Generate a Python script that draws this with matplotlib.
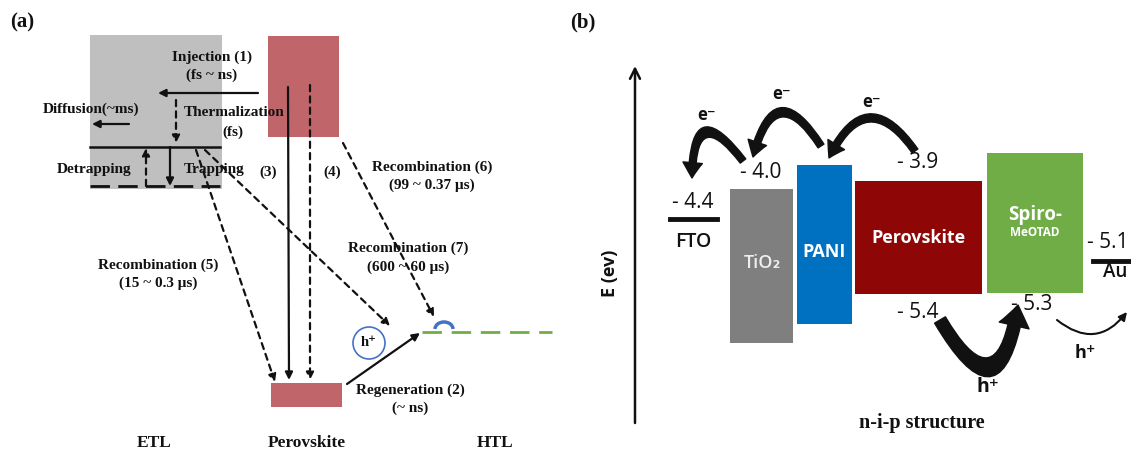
"""
plot.py — 钙钛矿电池载流子动力学示意图 (a) + 能级图 (b)
整张图用一个像素坐标的 axes 画，方便对位。
"""

import matplotlib
matplotlib.use("Agg")
import matplotlib.pyplot as plt
from matplotlib.patches import Rectangle, Circle, Arc, FancyArrowPatch

W, H = 1131, 451
SERIF = ["Liberation Serif", "DejaVu Serif"]
SANS = ["Open Sans", "DejaVu Sans"]
BLACK = "#111111"

# ── (a) 数据 ──────────────────────────────────────────────
a_box_names = ["ETL", "Perovskite CB", "Perovskite VB"]
a_box_colors = ["#bfbfbf", "#c0666a", "#c0666a"]
a_box_geom = [(90, 35, 132, 154), (268, 36, 71, 101), (271, 383, 71, 24)]

a_texts = [
    "Injection (1)", "(fs ~ ns)", "Diffusion(~ms)", "Thermalization", "(fs)",
    "Detrapping", "Trapping", "(3)", "(4)",
    "Recombination (6)", "(99 ~ 0.37 μs)",
    "Recombination (7)", "(600 ~ 60 μs)",
    "Recombination (5)", "(15 ~ 0.3 μs)",
    "Regeneration (2)", "(~ ns)",
]
a_text_pos = [
    (212, 57), (212, 75), (91, 109), (234, 112), (233, 132),
    (94, 170), (214, 170), (268, 172), (332, 172),
    (432, 167), (432, 185), (408, 248), (408, 267),
    (158, 265), (158, 283), (410, 390), (410, 408),
]
a_layers = ["ETL", "Perovskite", "HTL"]
a_layer_x = [154, 307, 495]

# 实线箭头 / 虚线箭头 (起点 -> 终点)
a_solid_arrows = [
    ((258, 93), (158, 93)),     # injection
    ((129, 124), (92, 124)),    # diffusion
    ((170, 147), (170, 186)),   # trapping
    ((288, 87), (289, 380)),    # (3)
    ((347, 384), (420, 333)),   # regeneration
]
a_dashed_arrows = [
    ((176, 100), (176, 143)),   # thermalization
    ((146, 186), (146, 148)),   # detrapping
    ((310, 85), (310, 380)),    # (4)
    ((196, 150), (275, 382)),   # recombination (5)
    ((205, 150), (390, 326)),   # recombination (7)
    ((343, 143), (434, 317)),   # recombination (6)
]

# ── (b) 数据 ──────────────────────────────────────────────
b_layers = ["TiO₂", "PANI", "Perovskite", "Spiro-"]
b_colors = ["#7f7f7f", "#0070c0", "#8e0606", "#70ad47"]
b_geom = [(730, 189, 63, 154), (797, 165, 55, 159),
          (855, 181, 127, 113), (987, 153, 96, 140)]
b_levels = ["- 4.4", "- 4.0", "- 3.9", "- 5.4", "- 5.3", "- 5.1"]
b_level_pos = [(693, 202), (761, 173), (918, 163), (918, 312), (1032, 305), (1108, 243)]
b_e_arrows = [((743, 161), (692, 178)), ((821, 146), (753, 157)), ((915, 151), (829, 158))]
b_e_rads = [1.45, 1.15, 0.85]
b_e_label_pos = [(707, 115), (782, 94), (872, 102)]


fig = plt.figure(figsize=(W / 100, H / 100), dpi=100)
ax = fig.add_axes([0, 0, 1, 1])
ax.set_xlim(0, W)
ax.set_ylim(H, 0)
ax.axis("off")


def serif(x, y, s, size=11, **kw):
    ax.text(x, y, s, ha="center", va="center", family=SERIF,
            fontweight="bold", fontsize=size, color=BLACK, **kw)


def sans(x, y, s, size=15, weight="normal", color=BLACK, ha="center", **kw):
    ax.text(x, y, s, ha=ha, va="center", family=SANS,
            fontweight=weight, fontsize=size, color=color, **kw)


def arrow(p0, p1, ls="-", lw=1.6, color=BLACK):
    ax.annotate("", xy=p1, xytext=p0,
                arrowprops=dict(arrowstyle="-|>", lw=lw, linestyle=ls, color=color,
                                mutation_scale=11, shrinkA=0, shrinkB=0))


# ── (a) ──
serif(22, 22, "(a)", size=15)
for (x, y, w, h), c in zip(a_box_geom, a_box_colors):
    ax.add_patch(Rectangle((x, y), w, h, facecolor=c, edgecolor="none"))

ax.plot([90, 220], [147, 147], color=BLACK, lw=1.8)
ax.plot([90, 220], [186, 186], color=BLACK, lw=2, linestyle=(0, (7, 3)))

for p0, p1 in a_solid_arrows:
    arrow(p0, p1)
for p0, p1 in a_dashed_arrows:
    arrow(p0, p1, ls=(0, (2.8, 2.3)))

for s, (x, y) in zip(a_texts, a_text_pos):
    serif(x, y, s)
for s, x in zip(a_layers, a_layer_x):
    serif(x, 443, s, size=12.5)

# HTL 能级 (绿色虚线) + 空穴
ax.plot([422, 552], [332, 332], color="#70ad47", lw=2, linestyle=(0, (7, 3.5)))
ax.add_patch(Arc((444, 329), 18, 14, theta1=180, theta2=360, color="#4472c4", lw=2.5))
ax.add_patch(Circle((369, 343), 16, facecolor="white", edgecolor="#4472c4", lw=1.2))
serif(369, 343, "h⁺", size=10.5)

# ── (b) ──
serif(583, 22, "(b)", size=15)
ax.annotate("", xy=(635, 66), xytext=(635, 423),
            arrowprops=dict(arrowstyle="->", lw=1.8, color=BLACK,
                            mutation_scale=18, shrinkA=0, shrinkB=0))
sans(610, 273, "E (ev)", size=13, weight="bold", rotation=90)

for (x, y, w, h), c in zip(b_geom, b_colors):
    ax.add_patch(Rectangle((x, y), w, h, facecolor=c, edgecolor="none"))
sans(762, 263, b_layers[0], size=13, weight="semibold", color="#eeeeee")
sans(824, 252, b_layers[1], size=13, weight="bold", color="white")
sans(918, 238, b_layers[2], size=13, weight="bold", color="white")
sans(1035, 215, b_layers[3], size=13.5, weight="bold", color="white")
sans(1035, 232, "MeOTAD", size=8.5, weight="bold", color="white")

# 电极
ax.plot([670, 717], [219, 219], color=BLACK, lw=3.5)
ax.plot([1093, 1131], [261, 261], color=BLACK, lw=3.5)
sans(693, 242, "FTO", size=14, weight="semibold")
sans(1103, 272, "Au", size=13.5, weight="semibold", ha="left")

for s, (x, y) in zip(b_levels, b_level_pos):
    sans(x, y, s, size=15)

# 电子转移弯箭头
for (p0, p1), rad, (lx, ly) in zip(b_e_arrows, b_e_rads, b_e_label_pos):
    ax.add_patch(FancyArrowPatch(p0, p1, connectionstyle=f"arc3,rad={rad}",
                                 arrowstyle="simple,tail_width=0.5,head_width=1.4,head_length=1.1",
                                 mutation_scale=10, color=BLACK, shrinkA=0, shrinkB=0))
    sans(lx, ly, "e⁻", size=12, weight="bold")

# 空穴转移
ax.add_patch(FancyArrowPatch((940, 320), (1018, 305), connectionstyle="arc3,rad=1.4",
                             arrowstyle="simple,tail_width=0.9,head_width=2.2,head_length=1.5",
                             mutation_scale=10, color=BLACK, shrinkA=0, shrinkB=0))
sans(988, 387, "h⁺", size=14, weight="bold")
ax.add_patch(FancyArrowPatch((1057, 320), (1127, 312), connectionstyle="arc3,rad=0.5",
                             arrowstyle="-|>", mutation_scale=12, lw=1.5,
                             color=BLACK, shrinkA=0, shrinkB=0))
sans(1085, 353, "h⁺", size=13, weight="bold")

serif(922, 423, "n-i-p structure", size=14.5)

fig.savefig("out.png", dpi=100)
